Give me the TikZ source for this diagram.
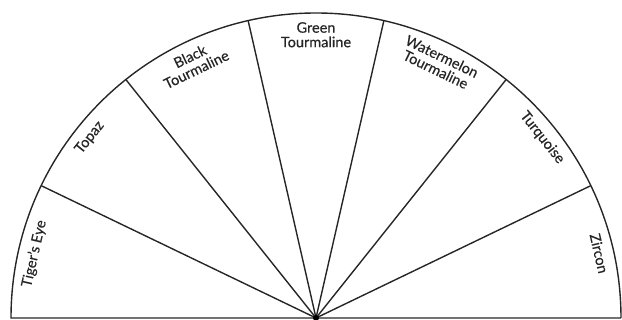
\documentclass[tikz,border=0pt]{standalone}
\usepackage{fontspec}
\setmainfont[FakeBold=0.4]{Lato}
\usetikzlibrary{calc}
\begin{document}
\begin{tikzpicture}[x=1pt,y=1pt,
  wheel/.style={line width=1.4pt, black!85},
  lbl/.style={anchor=north, inner sep=0pt, align=center,
    font=\fontsize{14.5}{14.5}\selectfont, text=black!85}]
\useasboundingbox (0,0) rectangle (622,320);
\coordinate (c) at (316,2);
\pgfmathsetmacro{\R}{305}
\pgfmathsetmacro{\S}{180/7}
\pgfmathsetmacro{\T}{296}
% arc and baseline
\coordinate (w) at ($(c)+(180:\R)$);
\coordinate (e) at ($(c)+(0:\R)$);
\draw[wheel] (e) arc[start angle=0, end angle=180, radius=\R] -- (e);
% spokes
\foreach \i in {1,...,6}{
  \coordinate (p\i) at ($(c)+({\i*\S}:\R)$);
  \draw[wheel] (c) -- (p\i);
}
\fill[black] (c) circle[radius=3];
% labels
\node[lbl, rotate={0.5*\S-90}]  (l1) at ($(c)+({0.5*\S}:\T)$) {Zircon};
\node[lbl, rotate={1.5*\S-90}]  (l2) at ($(c)+({1.5*\S}:\T)$) {Turquoise};
\node[lbl, rotate={2.5*\S-90}]  (l3) at ($(c)+({2.5*\S}:\T)$) {Watermelon\\Tourmaline};
\node[lbl, rotate={3.5*\S-90}]  (l4) at ($(c)+({3.5*\S}:\T)$) {Green\\Tourmaline};
\node[lbl, rotate={4.5*\S-90}]  (l5) at ($(c)+({4.5*\S}:\T)$) {Black\\Tourmaline};
\node[lbl, rotate={5.5*\S-90}]  (l6) at ($(c)+({5.5*\S}:\T)$) {Topaz};
\node[lbl, rotate={6.5*\S-90}]  (l7) at ($(c)+({6.5*\S}:\T)$) {Tiger's Eye};
\end{tikzpicture}
\end{document}
